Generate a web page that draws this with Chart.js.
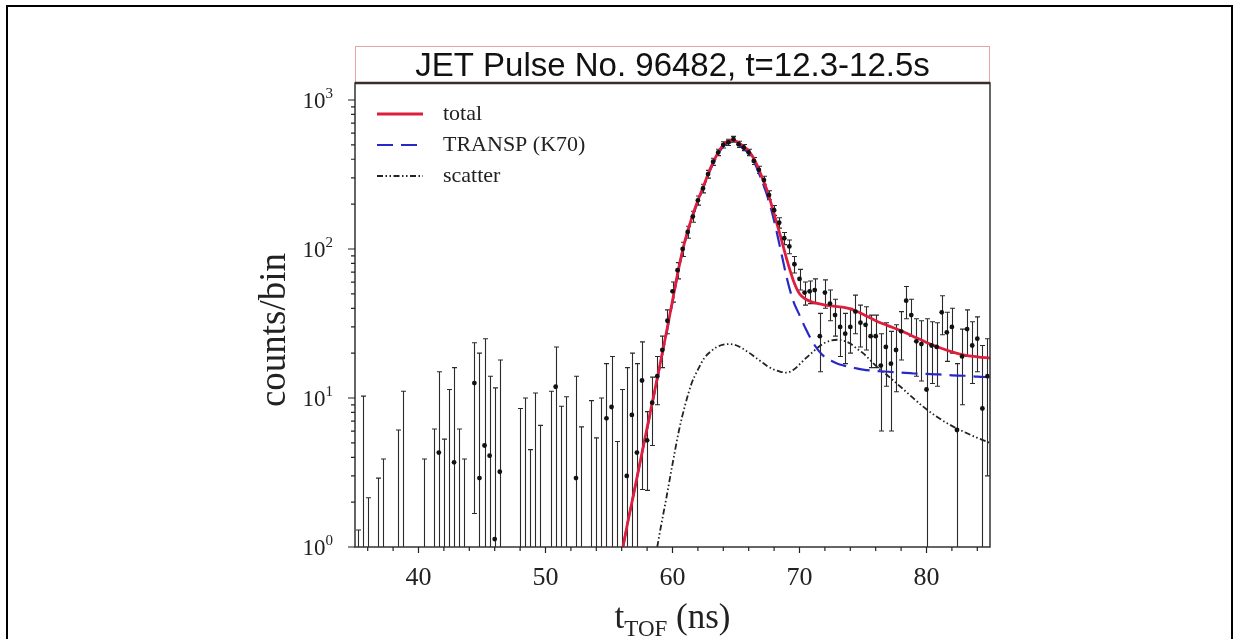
<!DOCTYPE html>
<html lang="en">
<head>
<meta charset="UTF-8">
<title>JET Pulse No. 96482, t=12.3-12.5s</title>
<script src="https://cdn.jsdelivr.net/npm/chart.js"></script>
<style>
  html, body { margin: 0; padding: 0; background: #fff; }
  #wrap { position: absolute; left: 0; top: 0; width: 1239px; height: 639px; }
  #frame { position: absolute; left: 6px; top: 5px; width: 1227px; height: 700px;
           border-left: 2px solid #000; border-top: 2px solid #000; border-right: 2px solid #000;
           box-sizing: border-box; pointer-events: none; }
</style>
</head>
<body>
<div id="wrap"><canvas id="tof" width="1239" height="639"></canvas></div>
<div id="frame"></div>
<script>
// axis ticks
const xMajor = [40, 50, 60, 70, 80];
const xMinor = [36, 38, 42, 44, 46, 48, 52, 54, 56, 58, 62, 64, 66, 68, 72, 74, 76, 78, 82, 84];
const yMajor = [1, 10, 100, 1000];
const yMinor = [2, 3, 4, 5, 6, 7, 8, 9, 20, 30, 40, 50, 60, 70, 80, 90, 200, 300, 400, 500, 600, 700, 800, 900];

// measured spectrum: bin centre (ns), counts (null = below axis), error bar ends (null = runs off axis)
const tof = [35.2, 35.6, 36.0, 36.8, 37.2, 38.4, 38.8, 40.4, 41.2, 41.6, 42.0, 42.4, 42.8, 43.2, 43.6,
  44.4, 44.8, 45.2, 45.6, 46.0, 46.4, 48.0, 48.4, 48.8, 49.2, 49.6, 50.4, 50.8, 51.2, 51.6, 52.4, 52.8,
  53.6, 54.0, 54.4, 54.8, 55.2, 55.6, 56.0, 56.4, 56.8, 57.2, 57.6, 58.0, 58.4,
  58.8, 59.2, 59.6, 60.0, 60.4, 60.8, 61.2, 61.6, 62.0, 62.4, 62.8, 63.2, 63.6, 64.0, 64.4, 64.8,
  65.2, 65.6, 66.0, 66.4, 66.8, 67.2, 67.6, 68.0, 68.4, 68.8, 69.2, 69.6, 70.0, 70.4, 70.8, 71.2,
  71.6, 72.0, 72.4, 72.8, 73.2, 73.6, 74.0, 74.4, 74.8, 75.2, 75.6, 76.0, 76.4, 76.8, 77.2, 77.6,
  78.0, 78.4, 78.8, 79.2, 79.6, 80.0, 80.4, 80.8, 81.2, 81.6, 82.0, 82.4, 82.8, 83.2, 83.6, 84.0, 84.4, 84.8];
const counts = [null, null, null, null, null, null, null, null, null, 4.3, null, null, 3.7, null, null,
  12.6, 2.9, 4.8, 4.1, 1.13, 3.2, null, null, null, null, null, null, 11.9, null, null, 2.9, null,
  null, null, null, 7.3, 8.7, null, null, 3.0, 7.7, 4.3, 13.1, 5.2, 9.3,
  14, 21, 33, 52, 72, 100, 130, 165, 212, 255, 318, 385, 445, 500, 520, 545,
  505, 480, 445, 390, 340, 290, 230, 182, 150, 118, 104, 79, 63, 51, 52, 53,
  26, 51, 43, 36, 30, 27, 30, 38, 32, 31, 26, 26, 16.5, 22, 17, 21,
  28, 45, 36, 24, 23, 11.4, 22.5, 22, 37.6, 27.6, 30, 6.1, 19, 29, 22.5, 25, 8.5, 14];
const barHi = [1.3, 10.3, 2.14, 2.9, 3.9, 6.1, 11.1, 3.9, 6.2, 15, 5.3, 11.4, 16, 6.2, 3.9,
  23.5, 20, 25, 14, 11.7, 18, 8.5, 10, 4.5, 10.8, 6.55, 11.1, 22, 8.8, 10.2, 14, 6.4,
  9.6, 5.4, 10, 17, 19, 5.1, 11.4, 16, 20, 17, 23.8, 8.1, 13.8,
  19, 26, 39, 60, 81, 111, 142, 179, 227, 272, 337, 406, 467, 524, 545, 570,
  529, 503, 467, 411, 359, 308, 246, 196, 162, 129, 115, 89, 73, 60, 61, 63,
  37, 62, 53, 46, 41, 37, 40, 49, 42, 41, 36, 36, 27, 32, 28, 31,
  38, 56, 46, 34, 33, 34, 32.5, 32, 48.6, 37.6, 40, 17, 29, 39, 32.5, 35, 22.5, 25];
const barLo = [null, null, null, null, null, null, null, null, null, null, null, null, null, null, null,
  1.68, null, null, null, null, null, null, null, null, null, null, null, null, null, null, null, null,
  null, null, null, null, null, null, null, null, null, null, 2.43, 2.4, 4.8,
  9, 16, 27, 44, 63, 89, 118, 151, 197, 238, 299, 364, 423, 476, 495, 520,
  481, 457, 423, 369, 321, 272, 214, 168, 138, 107, 93, 69, 53, 42, 43, 43,
  15, 40, 33, 26, 19, 17, 20, 27, 22, 21, 16, 16, 6, 12, 6, 11,
  18, 34, 26, 14, 13, null, 12.5, 12, 26.6, 17.6, 20, null, 9, 19, 12.5, 15, null, 3];

// model curves
const tModel = [56.1, 56.5, 57, 57.5, 58, 58.5, 59, 59.5, 60, 60.5, 61, 61.5, 62, 62.5, 63, 63.5, 64, 64.5,
  65, 65.5, 66, 66.5, 67, 67.5, 68, 68.5, 69, 69.5, 70, 70.5, 71, 71.5, 72, 72.5, 73, 73.5, 74, 74.5, 75,
  76, 77, 78, 79, 80, 81, 82, 83, 84, 85];
const total = [1.0, 1.5, 2.4, 3.9, 6.3, 10.2, 16.5, 27, 45, 75, 115, 160, 212, 272, 350, 430, 500, 535,
  528, 495, 455, 390, 310, 240, 172, 122, 85, 62, 50, 46, 44, 43, 42, 41.5, 41, 40.5, 39.6, 38.2, 36.5,
  33, 30.5, 28.3, 25.8, 23.6, 21.8, 20.4, 19.4, 18.9, 18.5];
const transp = [1.0, 1.5, 2.4, 3.9, 6.2, 10, 16.2, 26.5, 44, 74, 113, 157, 208, 268, 343, 420, 488, 520,
  512, 478, 437, 372, 292, 222, 155, 100, 64, 45, 36, 29, 24, 20.8, 18.8, 17.8, 17.0, 16.5, 16.1, 15.8, 15.5,
  15.2, 15.0, 14.8, 14.6, 14.5, 14.4, 14.2, 14.1, 13.9, 13.8];
const tScatter = [58.8, 59, 59.5, 60, 60.5, 61, 61.5, 62, 62.5, 63, 63.5, 64, 64.5, 65, 65.5, 66, 66.5, 67,
  67.5, 68, 68.5, 69, 69.5, 70, 70.5, 71, 71.5, 72, 72.5, 73, 73.5, 74, 74.5, 75, 76, 77, 78, 79, 80, 81,
  82, 83, 84, 85];
const scatter = [1.0, 1.25, 2.1, 3.6, 6, 9, 12.5, 15.5, 18.5, 20.5, 22, 22.8, 23, 22.6, 21.5, 20.2, 18.8,
  17.5, 16.3, 15.5, 15, 14.8, 15.4, 16.8, 18.5, 20.2, 22, 23.5, 24.3, 24.6, 24.2, 23.2, 21.5, 20, 16.5, 14,
  11.8, 9.9, 8.4, 7.3, 6.5, 5.9, 5.4, 5.0];

const RED = '#dd1e3c', BLUE = '#2828c8', BLACK = '#222';
const TRANSP_DASH = [16, 8];
const SCATTER_DASH = [6, 2.5, 1.5, 2.5, 1.5, 2.5];
const serif = "'Liberation Serif', 'DejaVu Serif', serif";
const sans = "'Liberation Sans', Arial, sans-serif";

const pairs = (xs, ys) => xs.map((v, i) => ({ x: v, y: ys[i] }));

const deco = {
  id: 'deco',
  beforeDatasetsDraw(chart) {
    // error bars
    const { ctx, chartArea: a, scales: { x, y } } = chart;
    ctx.save();
    ctx.beginPath();
    ctx.rect(a.left, a.top, a.right - a.left, a.bottom - a.top);
    ctx.clip();
    ctx.strokeStyle = '#2a2a2a';
    ctx.lineWidth = 1.1;
    tof.forEach((t, i) => {
      const px = Math.round(x.getPixelForValue(t)) + 0.5;
      const top = y.getPixelForValue(barHi[i]);
      const bot = barLo[i] === null ? a.bottom + 2 : y.getPixelForValue(barLo[i]);
      ctx.beginPath();
      ctx.moveTo(px, bot);
      ctx.lineTo(px, top);
      ctx.moveTo(px - 2.5, top);
      ctx.lineTo(px + 2.5, top);
      if (barLo[i] !== null) {
        ctx.moveTo(px - 2.5, bot);
        ctx.lineTo(px + 2.5, bot);
      }
      ctx.stroke();
    });
    ctx.restore();
  },
  afterDraw(chart) {
    const { ctx, chartArea: a, scales: { x, y } } = chart;
    ctx.save();

    // title box
    ctx.strokeStyle = '#e8a4a4';
    ctx.lineWidth = 1;
    ctx.strokeRect(a.left + 0.5, 46.5, a.right - a.left - 1, a.top - 46.5);
    ctx.fillStyle = '#111';
    ctx.font = '33px ' + sans;
    ctx.textAlign = 'center';
    ctx.textBaseline = 'alphabetic';
    ctx.fillText('JET Pulse No. 96482, t=12.3-12.5s', (a.left + a.right) / 2, 76);

    // plot frame
    ctx.strokeStyle = '#333';
    ctx.lineWidth = 1.5;
    ctx.strokeRect(a.left, a.top, a.right - a.left, a.bottom - a.top);
    ctx.strokeStyle = '#3a2c2c';
    ctx.lineWidth = 2.5;
    ctx.beginPath();
    ctx.moveTo(a.left, a.top);
    ctx.lineTo(a.right, a.top);
    ctx.stroke();

    // ticks
    ctx.strokeStyle = '#222';
    ctx.lineWidth = 1.2;
    ctx.beginPath();
    xMajor.forEach(v => { const p = x.getPixelForValue(v); ctx.moveTo(p, a.bottom); ctx.lineTo(p, a.bottom + 6); });
    xMinor.forEach(v => { const p = x.getPixelForValue(v); ctx.moveTo(p, a.bottom); ctx.lineTo(p, a.bottom + 4); });
    yMajor.forEach(v => { const p = y.getPixelForValue(v); ctx.moveTo(a.left, p); ctx.lineTo(a.left - 7, p); });
    yMinor.forEach(v => { const p = y.getPixelForValue(v); ctx.moveTo(a.left, p); ctx.lineTo(a.left - 4, p); });
    ctx.stroke();

    // tick labels
    ctx.fillStyle = '#222';
    ctx.font = '26px ' + serif;
    ctx.textAlign = 'center';
    xMajor.forEach(v => ctx.fillText(String(v), x.getPixelForValue(v), a.bottom + 38));

    ctx.textAlign = 'left';
    yMajor.forEach(v => {
      const p = y.getPixelForValue(v);
      const exp = String(Math.round(Math.log10(v)));
      ctx.font = '15px ' + serif;
      const we = ctx.measureText(exp).width;
      ctx.font = '23px ' + serif;
      const wb = ctx.measureText('10').width;
      const right = a.left - 22;
      ctx.fillText('10', right - we - wb, p + 8);
      ctx.font = '15px ' + serif;
      ctx.fillText(exp, right - we, p - 2);
    });

    // axis titles
    ctx.font = '37px ' + serif;
    ctx.save();
    ctx.translate(275, 330);
    ctx.rotate(-Math.PI / 2);
    ctx.textAlign = 'center';
    ctx.textBaseline = 'middle';
    ctx.fillText('counts/bin', 0, 0);
    ctx.restore();

    const cx = (a.left + a.right) / 2;
    const base = 628;
    ctx.font = '35px ' + serif;
    const w1 = ctx.measureText('t').width;
    const w3 = ctx.measureText(' (ns)').width;
    ctx.font = '23px ' + serif;
    const w2 = ctx.measureText('TOF').width;
    const sx = cx - (w1 + w2 + w3) / 2;
    ctx.textAlign = 'left';
    ctx.font = '35px ' + serif;
    ctx.fillText('t', sx, base);
    ctx.font = '23px ' + serif;
    ctx.fillText('TOF', sx + w1, base + 8);
    ctx.font = '35px ' + serif;
    ctx.fillText(' (ns)', sx + w1 + w2, base);

    // legend
    const rows = [
      { label: 'total', color: RED, width: 2.8, dash: [] },
      { label: 'TRANSP (K70)', color: BLUE, width: 2.2, dash: TRANSP_DASH },
      { label: 'scatter', color: BLACK, width: 1.8, dash: SCATTER_DASH }
    ];
    ctx.font = '22px ' + serif;
    ctx.textBaseline = 'middle';
    rows.forEach((r, i) => {
      const ly = a.top + 31 + i * 31;
      ctx.strokeStyle = r.color;
      ctx.lineWidth = r.width;
      ctx.setLineDash(r.dash);
      ctx.beginPath();
      ctx.moveTo(a.left + 22, ly);
      ctx.lineTo(a.left + 68, ly);
      ctx.stroke();
      ctx.setLineDash([]);
      ctx.fillStyle = '#222';
      ctx.fillText(r.label, a.left + 88, ly);
    });
    ctx.restore();
  }
};

new Chart(document.getElementById('tof'), {
  type: 'line',
  data: {
    datasets: [{
      label: 'data',
      data: pairs(tof, counts).filter(p => p.y !== null),
      showLine: false,
      pointRadius: 2.4,
      pointBackgroundColor: '#111',
      pointBorderWidth: 0
    }, {
      label: 'total',
      data: pairs(tModel, total),
      borderColor: RED,
      borderWidth: 2.8,
      pointRadius: 0,
      cubicInterpolationMode: 'monotone'
    }, {
      label: 'TRANSP (K70)',
      data: pairs(tModel, transp),
      borderColor: BLUE,
      borderWidth: 2.2,
      borderDash: TRANSP_DASH,
      pointRadius: 0,
      cubicInterpolationMode: 'monotone'
    }, {
      label: 'scatter',
      data: pairs(tScatter, scatter),
      borderColor: BLACK,
      borderWidth: 1.8,
      borderDash: SCATTER_DASH,
      pointRadius: 0,
      cubicInterpolationMode: 'monotone'
    }]
  },
  options: {
    responsive: false,
    animation: false,
    devicePixelRatio: 1,
    layout: { padding: { left: 355, top: 83, right: 249, bottom: 92 } },
    plugins: { legend: { display: false }, tooltip: { enabled: false } },
    scales: {
      x: { type: 'linear', min: 35, max: 85, display: false },
      y: { type: 'logarithmic', min: 1, max: 1300, display: false }
    }
  },
  plugins: [deco]
});
</script>
</body>
</html>
